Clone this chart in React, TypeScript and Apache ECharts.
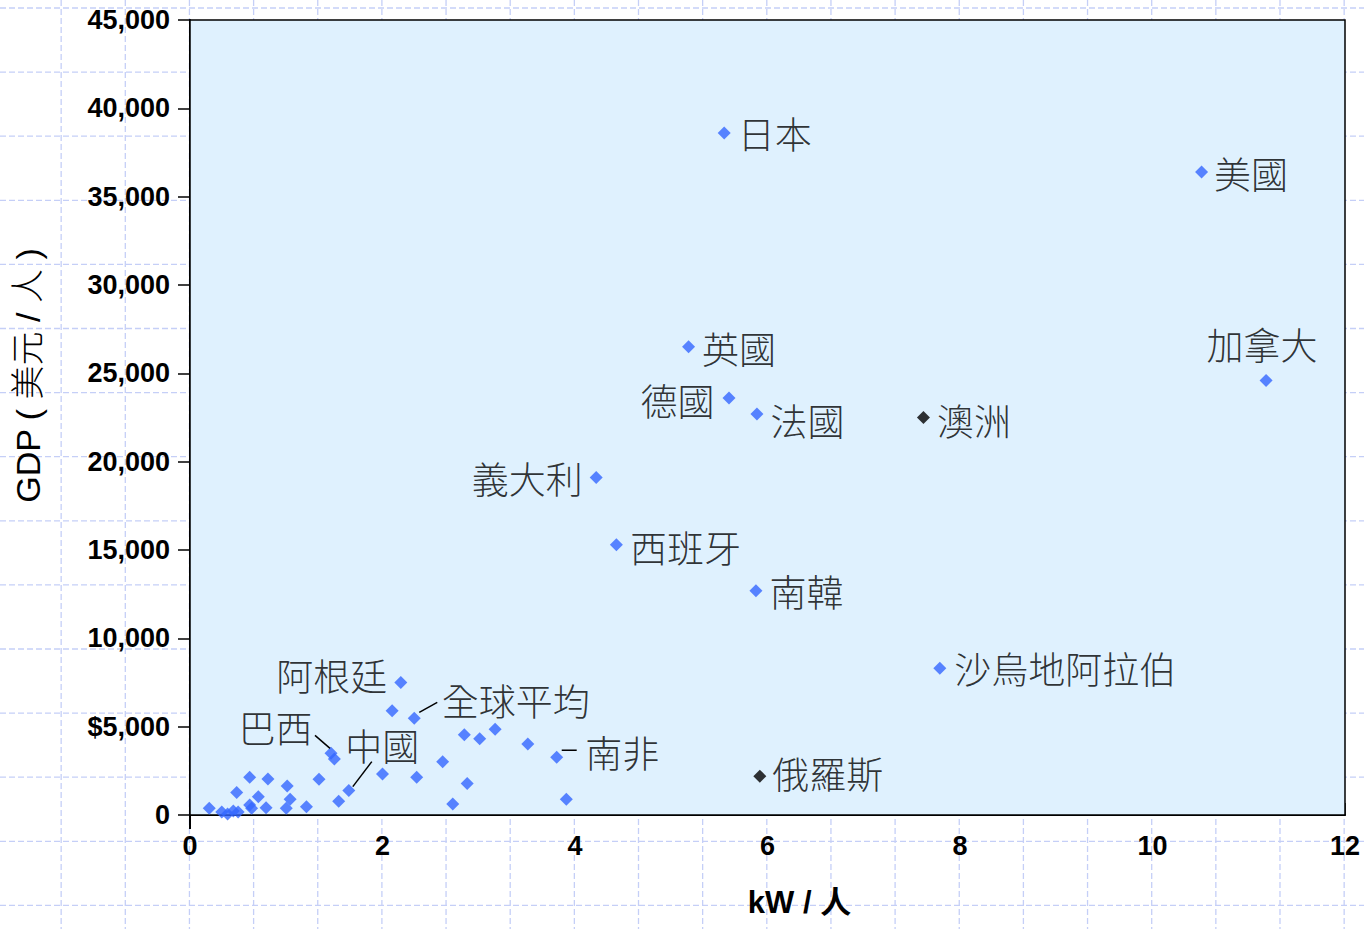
import React, { useEffect, useRef } from 'react';
import * as echarts from 'echarts';

// ---- data ----
const labeledNames = ['日本', '美國', '加拿大', '英國', '德國', '法國', '義大利', '西班牙', '南韓', '沙烏地阿拉伯', '阿根廷', '全球平均', '巴西', '中國', '南非'];
const labeledKw = [5.55, 10.51, 11.18, 5.18, 5.6, 5.89, 4.22, 4.43, 5.88, 7.79, 2.19, 2.33, 1.465, 1.65, 3.81];
const labeledGdp = [38600, 36400, 24600, 26500, 23600, 22700, 19100, 15300, 12700, 8300, 7500, 5470, 3490, 1380, 3270];

const highlightNames = ['澳洲', '俄羅斯'];
const highlightKw = [7.62, 5.92];
const highlightGdp = [22500, 2200];

const otherKw = [0.2, 0.33, 0.39, 0.45, 0.5, 0.485, 0.62, 0.81, 0.62, 0.71, 0.64, 0.79, 1.01, 1.04, 1.0, 1.21, 1.34, 1.5, 1.545, 2.0, 2.1, 2.355, 2.625, 2.73, 2.85, 2.88, 3.01, 3.17, 3.51, 3.91];
const otherGdp = [380, 170, 60, 230, 170, 1280, 2130, 2040, 570, 1040, 380, 410, 1640, 890, 380, 470, 2020, 3170, 780, 2320, 5900, 2130, 3020, 620, 4540, 1790, 4320, 4850, 4020, 890];

const xTickLabels = ['0', '2', '4', '6', '8', '10', '12'];
const yTickLabels = ['0', '$5,000', '10,000', '15,000', '20,000', '25,000', '30,000', '35,000', '40,000', '45,000'];

// ---- label styling (placement only) ----
const labelPlacement: Record<string, { position: string; offset: [number, number] }> = {
  '日本': { position: 'right', offset: [-2, 0] },
  '美國': { position: 'right', offset: [-3, 1] },
  '加拿大': { position: 'top', offset: [-4, -2] },
  '英國': { position: 'right', offset: [-2, 1] },
  '德國': { position: 'left', offset: [1, 2] },
  '法國': { position: 'right', offset: [-2, 6] },
  '義大利': { position: 'left', offset: [2, 0] },
  '西班牙': { position: 'right', offset: [-2, 2] },
  '南韓': { position: 'right', offset: [-2, 0] },
  '沙烏地阿拉伯': { position: 'right', offset: [-1, 0] },
  '阿根廷': { position: 'left', offset: [2, -8] },
  '全球平均': { position: 'right', offset: [12, -18] },
  '巴西': { position: 'left', offset: [-3, -26] },
  '中國': { position: 'right', offset: [-19, -46] },
  '南非': { position: 'right', offset: [13, -5] },
  '澳洲': { position: 'right', offset: [-2, 2] },
  '俄羅斯': { position: 'right', offset: [-3, -3] },
};

const leaderLines: Record<string, [[number, number], [number, number]]> = {
  '全球平均': [[5, -6], [23, -16]],
  '巴西': [[-16, -18], [-1, -5]],
  '中國': [[4, -4], [23, -29]],
  '南非': [[5, -7], [20, -7]],
};

const BLUE = '#3366ff';
const CJK = '"Noto Sans CJK TC", "Noto Sans", sans-serif';
const NUM = '"Liberation Sans", Arial, sans-serif';

function labelFor(name: string) {
  const p = labelPlacement[name];
  return {
    show: true,
    formatter: name,
    position: p.position,
    offset: p.offset,
    distance: 9,
    color: '#000',
    fontFamily: CJK,
    fontWeight: 300,
    fontSize: 37,
  };
}

export default function App() {
  const ref = useRef<HTMLDivElement>(null);
  useEffect(() => {
    const chart = echarts.init(ref.current!, null, { renderer: 'svg' });
    const option: any = {
      animation: false,
      backgroundColor: '#ffffff',
      grid: {
        left: 190,
        top: 20,
        right: 19,
        bottom: 114,
        show: true,
        backgroundColor: '#dff1fe',
        borderColor: '#000',
        borderWidth: 1.5,
        z: 1,
      },
      xAxis: {
        type: 'value',
        min: 0,
        max: 12,
        interval: 2,
        name: 'kW / 人',
        nameLocation: 'middle',
        nameGap: 72,
        nameTextStyle: { fontFamily: '"Liberation Sans", "Noto Sans CJK TC", sans-serif', fontSize: 31, fontWeight: 'bold', color: '#000', padding: [0, 0, 0, 64] },
        axisLine: { show: true, onZero: false, lineStyle: { color: '#000', width: 2 } },
        axisTick: { show: true, inside: true, length: 12, lineStyle: { color: '#000', width: 1.5 } },
        axisLabel: {
          margin: 17,
          fontFamily: NUM,
          fontWeight: 'bold',
          fontSize: 27,
          color: '#000',
          formatter: (v: number) => xTickLabels[Math.round(v / 2)],
        },
        splitLine: { show: false },
      },
      yAxis: {
        type: 'value',
        min: 0,
        max: 45000,
        interval: 5000,
        name: 'GDP ( 美元 / 人 )',
        nameLocation: 'middle',
        nameGap: 145,
        nameTextStyle: { fontFamily: '"Liberation Sans", "Noto Sans CJK TC", sans-serif', fontSize: 34, fontWeight: 300, color: '#000', padding: [0, 0, 0, 84] },
        axisLine: { show: true, onZero: false, lineStyle: { color: '#000', width: 2 } },
        axisTick: { show: true, inside: false, length: 12, lineStyle: { color: '#000', width: 1.5 } },
        axisLabel: {
          margin: 20,
          fontFamily: NUM,
          fontWeight: 'bold',
          fontSize: 27,
          color: '#000',
          formatter: (v: number) => yTickLabels[Math.round(v / 5000)],
        },
        splitLine: { show: false },
      },
      series: [
        {
          type: 'scatter',
          symbol: 'diamond',
          symbolSize: 13,
          itemStyle: { color: BLUE },
          data: otherKw.map((x, i) => [x, otherGdp[i]]),
          z: 3,
        },
        {
          type: 'scatter',
          symbol: 'diamond',
          symbolSize: 13,
          itemStyle: { color: BLUE },
          data: labeledNames.map((n, i) => ({ name: n, value: [labeledKw[i], labeledGdp[i]], label: labelFor(n) })),
          z: 3,
        },
        {
          type: 'scatter',
          symbol: 'diamond',
          symbolSize: 13,
          itemStyle: { color: '#000' },
          data: highlightNames.map((n, i) => ({ name: n, value: [highlightKw[i], highlightGdp[i]], label: labelFor(n) })),
          z: 3,
        },
      ],
    };
    chart.setOption(option);

    // page background grid (decorative)
    const W = 1364;
    const H = 929;
    const pageGrid: any[] = [];
    const dashStyle = { stroke: '#c5cff7', lineWidth: 1.3, lineDash: [6, 3] };
    for (let x = -3 + 64.15; x < W; x += 64.15) {
      pageGrid.push({ type: 'line', z: -10, silent: true, shape: { x1: x, y1: 0, x2: x, y2: H }, style: dashStyle });
    }
    for (let y = 8; y < H; y += 64.1) {
      pageGrid.push({ type: 'line', z: -10, silent: true, shape: { x1: 0, y1: y, x2: W, y2: y }, style: dashStyle });
    }

    const leaders = Object.keys(leaderLines).map((name) => {
      const i = labeledNames.indexOf(name);
      const p = chart.convertToPixel({ gridIndex: 0 }, [labeledKw[i], labeledGdp[i]]) as number[];
      const seg = leaderLines[name];
      return {
        type: 'line',
        z: 5,
        silent: true,
        shape: { x1: p[0] + seg[0][0], y1: p[1] + seg[0][1], x2: p[0] + seg[1][0], y2: p[1] + seg[1][1] },
        style: { stroke: '#000', lineWidth: 1.5 },
      };
    });

    const origin = chart.convertToPixel({ gridIndex: 0 }, [0, 0]) as number[];
    const originTick = {
      type: 'line',
      z: 5,
      silent: true,
      shape: { x1: origin[0], y1: origin[1], x2: origin[0], y2: origin[1] + 14 },
      style: { stroke: '#000', lineWidth: 2 },
    };

    chart.setOption({ graphic: { elements: [...pageGrid, ...leaders, originTick] } });

    return () => chart.dispose();
  }, []);

  return (
    <div
      ref={ref}
      style={{ position: 'absolute', left: 0, top: 0, width: 1364, height: 929, background: '#fff' }}
    />
  );
}
